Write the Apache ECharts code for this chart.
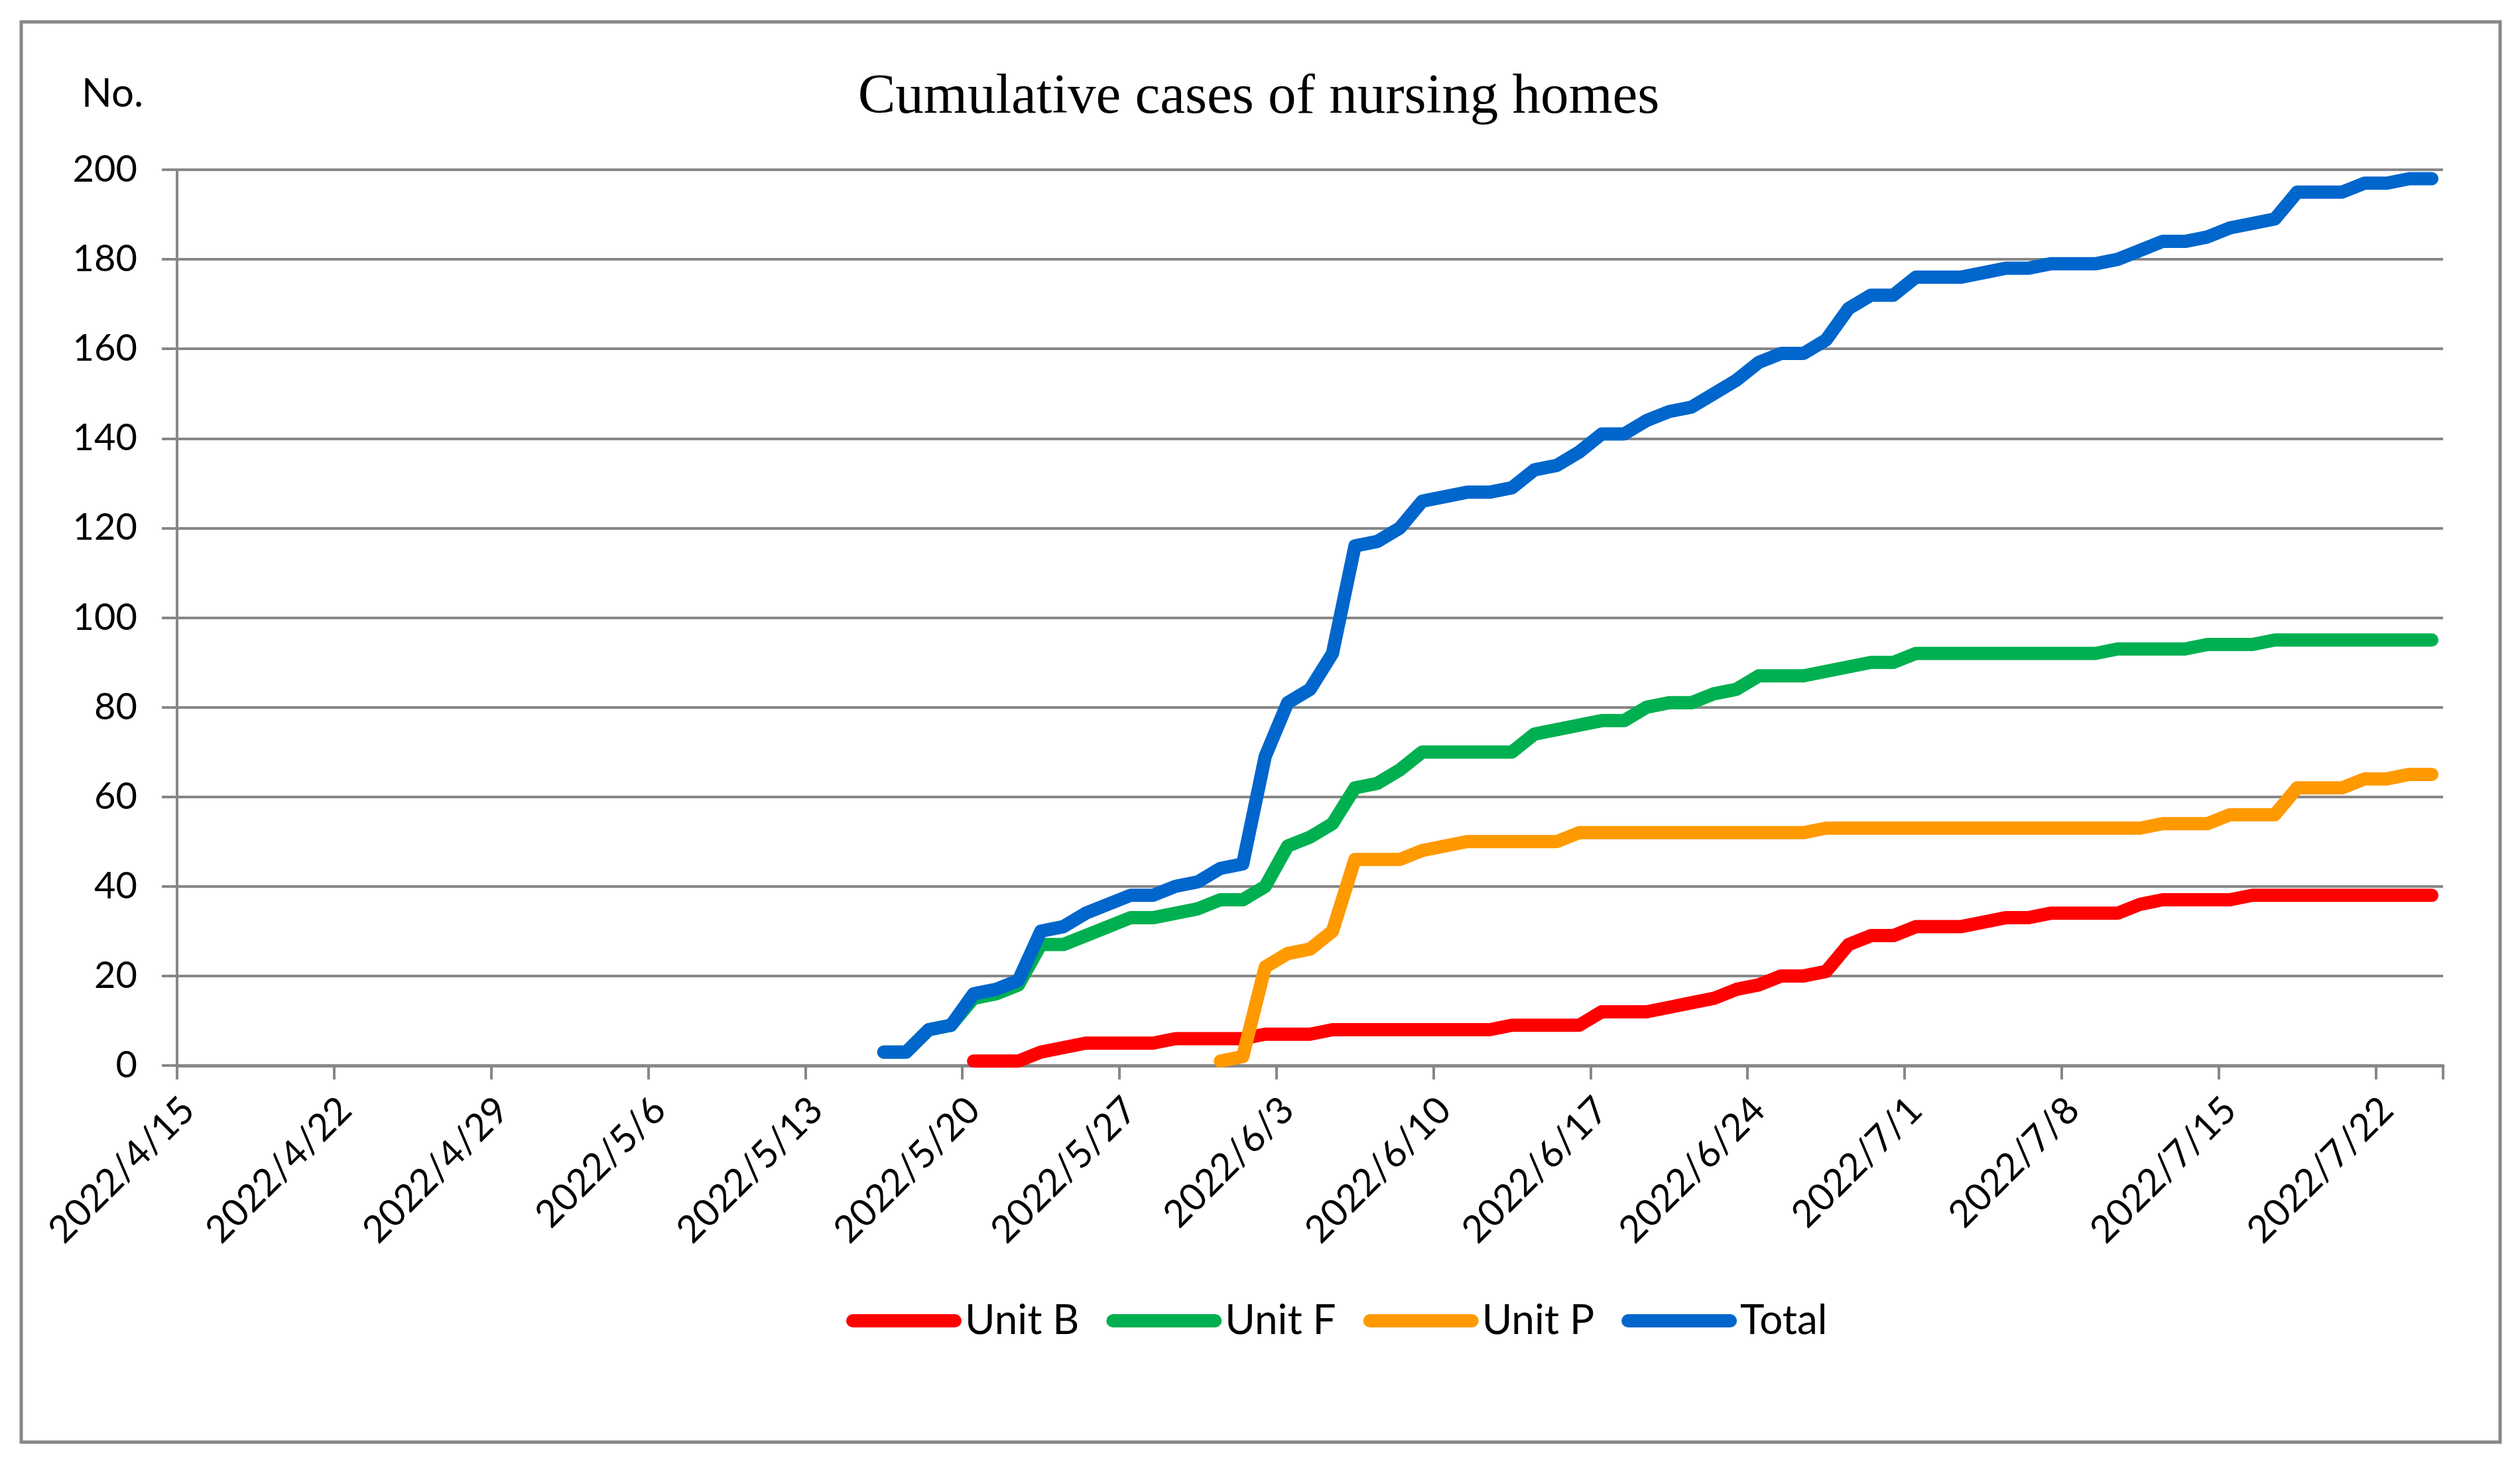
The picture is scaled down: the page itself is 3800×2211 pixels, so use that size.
<!DOCTYPE html>
<html><head><meta charset="utf-8">
<script src="https://cdn.jsdelivr.net/npm/echarts@6/dist/echarts.min.js"></script>
<style>html,body{margin:0;padding:0;background:#fff}#c{width:3800px;height:2211px}</style>
</head><body><div id="c"></div>
<script>
const categories = [
'2022/4/15','2022/4/16','2022/4/17','2022/4/18','2022/4/19','2022/4/20','2022/4/21','2022/4/22','2022/4/23','2022/4/24','2022/4/25','2022/4/26','2022/4/27','2022/4/28','2022/4/29','2022/4/30',
'2022/5/1','2022/5/2','2022/5/3','2022/5/4','2022/5/5','2022/5/6','2022/5/7','2022/5/8','2022/5/9','2022/5/10','2022/5/11','2022/5/12','2022/5/13','2022/5/14','2022/5/15','2022/5/16','2022/5/17','2022/5/18','2022/5/19','2022/5/20','2022/5/21','2022/5/22','2022/5/23','2022/5/24','2022/5/25','2022/5/26','2022/5/27','2022/5/28','2022/5/29','2022/5/30','2022/5/31',
'2022/6/1','2022/6/2','2022/6/3','2022/6/4','2022/6/5','2022/6/6','2022/6/7','2022/6/8','2022/6/9','2022/6/10','2022/6/11','2022/6/12','2022/6/13','2022/6/14','2022/6/15','2022/6/16','2022/6/17','2022/6/18','2022/6/19','2022/6/20','2022/6/21','2022/6/22','2022/6/23','2022/6/24','2022/6/25','2022/6/26','2022/6/27','2022/6/28','2022/6/29','2022/6/30',
'2022/7/1','2022/7/2','2022/7/3','2022/7/4','2022/7/5','2022/7/6','2022/7/7','2022/7/8','2022/7/9','2022/7/10','2022/7/11','2022/7/12','2022/7/13','2022/7/14','2022/7/15','2022/7/16','2022/7/17','2022/7/18','2022/7/19','2022/7/20','2022/7/21','2022/7/22','2022/7/23','2022/7/24'
];

// Each series: first date with data, then the daily values from that date on.
const unitBStart = '2022/5/20';
const unitB = [1,1,1,3,4, 5,5,5,5,6, 6,6,6,7,7, 7,8,8,8,8, 8,8,8,8,9, 9,9,9,12,12, 12,13,14,15,17, 18,20,20,21,27, 29,29,31,31,31, 32,33,33,34,34, 34,34,36,37,37, 37,37,38,38,38, 38,38,38,38,38,38];

const unitFStart = '2022/5/16';
const unitF = [3,3,8,9,15, 16,18,27,27,29, 31,33,33,34,35, 37,37,40,49,51, 54,62,63,66,70, 70,70,70,70,74, 75,76,77,77,80, 81,81,83,84,87, 87,87,88,89,90, 90,92,92,92,92, 92,92,92,92,92, 93,93,93,93,94, 94,94,95,95,95, 95,95,95,95,95];

const unitPStart = '2022/5/31';
const unitP = [1,2,22,25,26, 30,46,46,46,48, 49,50,50,50,50, 50,52,52,52,52, 52,52,52,52,52, 52,52,53,53,53, 53,53,53,53,53, 53,53,53,53,53, 53,53,54,54,54, 56,56,56,62,62, 62,64,64,65,65];

const totalStart = '2022/5/16';
const total = [3,3,8,9,16, 17,19,30,31,34, 36,38,38,40,41, 44,45,69,81,84, 92,116,117,120,126, 127,128,128,129,133, 134,137,141,141,144, 146,147,150,153,157, 159,159,162,169,172, 172,176,176,176,177, 178,178,179,179,179, 180,182,184,184,185, 187,188,189,195,195, 195,197,197,198,198];

const yMin = 0, yMax = 200, yStep = 20;

function pad(start, vals) {
  const s = categories.indexOf(start);
  const out = new Array(categories.length).fill(null);
  vals.forEach((v, k) => { out[s + k] = v; });
  return out;
}

const gray = '#878787';
const font = 'Lato';
const capsule = 'path://M10,0H164A10,10,0,0,1,164,20H10A10,10,0,0,1,10,0Z';

function line(name, color, start, vals) {
  return {
    name, type: 'line', data: pad(start, vals),
    showSymbol: false, symbol: 'none', connectNulls: false,
    lineStyle: { color, width: 20, cap: 'round', join: 'round' },
    itemStyle: { color },
    emphasis: { disabled: true }
  };
}

const chart = echarts.init(document.getElementById('c'), null, { renderer: 'canvas' });
chart.setOption({
  backgroundColor: '#ffffff',
  animation: false,
  graphic: [
    { type: 'rect', shape: { x: 32, y: 33, width: 3738, height: 2142 },
      style: { fill: 'none', stroke: gray, lineWidth: 5 }, silent: true },
    { type: 'text', x: 1898, y: 148,
      style: { text: 'Cumulative cases of nursing homes', fontSize: 85, fontFamily: '"Liberation Serif"', fill: '#000', align: 'center', verticalAlign: 'middle' } },
    { type: 'text', x: 123, y: 142,
      style: { text: 'No.', fontSize: 60, fontFamily: font, fill: '#000', align: 'left', verticalAlign: 'middle' } }
  ],
  legend: {
    left: 1271, top: 1952, itemGap: 41, itemWidth: 174, itemHeight: 20,
    icon: capsule,
    textStyle: { fontSize: 62, fontFamily: font, color: '#000', lineHeight: 70 },
    data: ['Unit B', 'Unit F', 'Unit P', 'Total']
  },
  grid: { left: 267, right: 116, top: 256, bottom: 604, containLabel: false },
  xAxis: {
    type: 'category', data: categories, boundaryGap: true,
    axisLine: { show: true, lineStyle: { color: gray, width: 5 } },
    axisTick: { show: true, interval: 6, length: 21, lineStyle: { color: gray, width: 4 } },
    axisLabel: { interval: 6, rotate: 45, fontSize: 57, fontFamily: font, color: '#000', margin: 58, align: 'right', verticalAlign: 'middle', padding: [40, 0, 0, 0] },
    splitLine: { show: false }
  },
  yAxis: {
    type: 'value', min: yMin, max: yMax, interval: yStep,
    axisLine: { show: true, lineStyle: { color: gray, width: 4 } },
    axisTick: { show: true, length: 23, lineStyle: { color: gray, width: 4 } },
    axisLabel: { fontSize: 56, fontFamily: font, color: '#000', margin: 60 },
    splitLine: { show: true, lineStyle: { color: gray, width: 4 } }
  },
  series: [
    line('Unit B', '#FF0000', unitBStart, unitB),
    line('Unit F', '#00B050', unitFStart, unitF),
    line('Unit P', '#FF9900', unitPStart, unitP),
    line('Total', '#0066CC', totalStart, total)
  ]
});
</script>
</body></html>
